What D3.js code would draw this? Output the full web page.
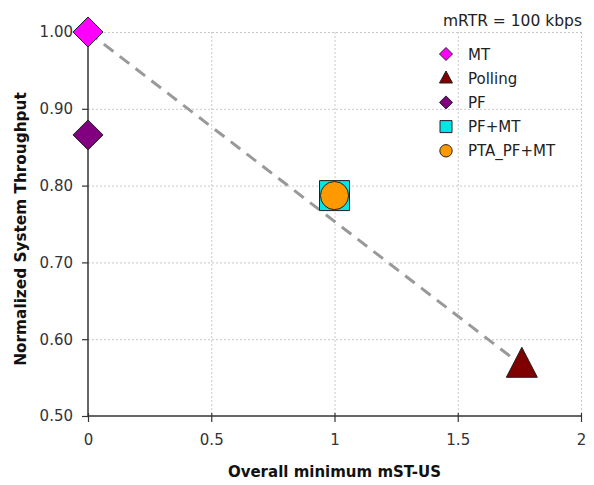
<!DOCTYPE html>
<html>
<head>
<meta charset="utf-8">
<script src="https://cdn.jsdelivr.net/npm/d3@7/dist/d3.min.js"></script>
<style>
  body { margin: 0; background: #fff; }
  svg { display: block; }
  text { font-family: "DejaVu Sans", Verdana, sans-serif; }
</style>
</head>
<body>
<svg id="chart" width="594" height="485"></svg>
<script>
// Series (one point each)
const seriesNames = ["MT", "Polling", "PF", "PF+MT", "PTA_PF+MT"];
const xValues = [0, 1.76, 0, 1, 1];
const yValues = [1.00, 0.566, 0.866, 0.787, 0.787];
const symbols = ["diamond", "triangle", "diamond", "square", "circle"];
const fills = ["#ff00ff", "#7f0000", "#800080", "#00e5e5", "#ff9900"];
const xTicks = [0, 0.5, 1, 1.5, 2];
const yTicks = [0.5, 0.6, 0.7, 0.8, 0.9, 1.0];
const trendFrom = [0, 1.00];
const trendTo = [1.76, 0.566];

const FONT = "'DejaVu Sans', Verdana, sans-serif";
const svg = d3.select("#chart");
const margin = { left: 88, right: 13, top: 32, bottom: 69 };
const W = 594, H = 485;

const x = d3.scaleLinear().domain([0, 2]).range([margin.left, W - margin.right]);
const y = d3.scaleLinear().domain([0.5, 1.0]).range([H - margin.bottom, margin.top]);

// Grid
const grid = svg.append("g").attr("stroke", "#c8c8c8").attr("stroke-width", 1)
  .attr("stroke-dasharray", "2,2");
grid.selectAll("line.h").data(yTicks.filter(d => d > 0.5)).join("line")
  .attr("x1", x(0)).attr("x2", x(2))
  .attr("y1", d => y(d) + 0.5).attr("y2", d => y(d) + 0.5);
grid.selectAll("line.v").data(xTicks.filter(d => d > 0)).join("line")
  .attr("x1", d => x(d) + 0.5).attr("x2", d => x(d) + 0.5)
  .attr("y1", y(1.0)).attr("y2", y(0.5));

// Axes
const xAxis = d3.axisBottom(x).tickValues(xTicks).tickFormat(d3.format("")).tickSize(6).tickPadding(12);
const yAxis = d3.axisLeft(y).tickValues(yTicks).tickFormat(d3.format(".2f")).tickSize(6).tickPadding(9);

const gx = svg.append("g").attr("transform", `translate(0,${y(0.5)})`).call(xAxis);
const gy = svg.append("g").attr("transform", `translate(${x(0)},0)`).call(yAxis);
[gx, gy].forEach(g => {
  g.select(".domain").attr("stroke", "#333").attr("stroke-width", 1.5);
  g.selectAll(".tick line").attr("stroke", "#333").attr("stroke-width", 1.2);
  g.selectAll(".tick text").attr("fill", "#333").style("font-size", "15px")
    .style("font-family", FONT);
});
gx.selectAll(".tick line").attr("y1", -3);
gy.select(".domain").attr("d", `M0,${y(0.5)}V${y(1.0)}`);
gx.select(".domain").attr("d", `M${x(0)},0H${x(2)}`);

// Trend line
svg.append("line")
  .attr("x1", x(trendFrom[0])).attr("y1", y(trendFrom[1]))
  .attr("x2", x(trendTo[0])).attr("y2", y(trendTo[1]))
  .attr("stroke", "#999").attr("stroke-width", 3).attr("stroke-dasharray", "12,8");

// Marker shapes
function diamondPath(r) {
  return `M0,${-r}L${r},0L0,${r}L${-r},0Z`;
}
function triPath(w, h) {
  return `M0,${-h * 0.6}L${w / 2},${h * 0.4}L${-w / 2},${h * 0.4}Z`;
}
function markerPath(sym, big) {
  if (sym === "diamond") return diamondPath(big ? 15 : 6.5);
  if (sym === "triangle") return big ? triPath(31, 30) : triPath(13, 12);
  if (sym === "square") return big ? "M-15,-15H15V15H-15Z" : "M-6,-6H6V6H-6Z";
  return d3.symbol().type(d3.symbolCircle).size(big ? 620 : 120)();
}

const pts = seriesNames.map((n, i) => ({ n, x: xValues[i], y: yValues[i], s: symbols[i], f: fills[i] }));
svg.append("g").selectAll("path").data(pts).join("path")
  .attr("transform", d => `translate(${x(d.x)},${y(d.y)})`)
  .attr("d", d => markerPath(d.s, true))
  .attr("fill", d => d.f).attr("stroke", "#222").attr("stroke-width", 1);

// Legend
const lg = svg.append("g").attr("transform", "translate(446,54)");
const rows = lg.selectAll("g").data(pts).join("g")
  .attr("transform", (d, i) => `translate(0,${i * 24.2})`);
rows.append("path").attr("d", d => markerPath(d.s, false))
  .attr("fill", d => d.f).attr("stroke", "#222").attr("stroke-width", 1);
rows.append("text").attr("x", 22).attr("y", 5.5).text(d => d.n)
  .style("font-size", "15px").attr("fill", "#222");

// Title
svg.append("text").attr("x", 582).attr("y", 26).attr("text-anchor", "end")
  .style("font-size", "15.5px").attr("fill", "#222").text("mRTR = 100 kbps");

// Axis titles
svg.append("text").attr("x", x(1)).attr("y", 477).attr("text-anchor", "middle")
  .style("font-size", "15px").style("font-weight", "bold").attr("fill", "#111")
  .text("Overall minimum mST-US");
svg.append("text").attr("transform", `translate(26,${y(0.75) + 5}) rotate(-90)`)
  .attr("text-anchor", "middle")
  .style("font-size", "15.3px").style("font-weight", "bold").attr("fill", "#111")
  .text("Normalized System Throughput");
</script>
</body>
</html>
